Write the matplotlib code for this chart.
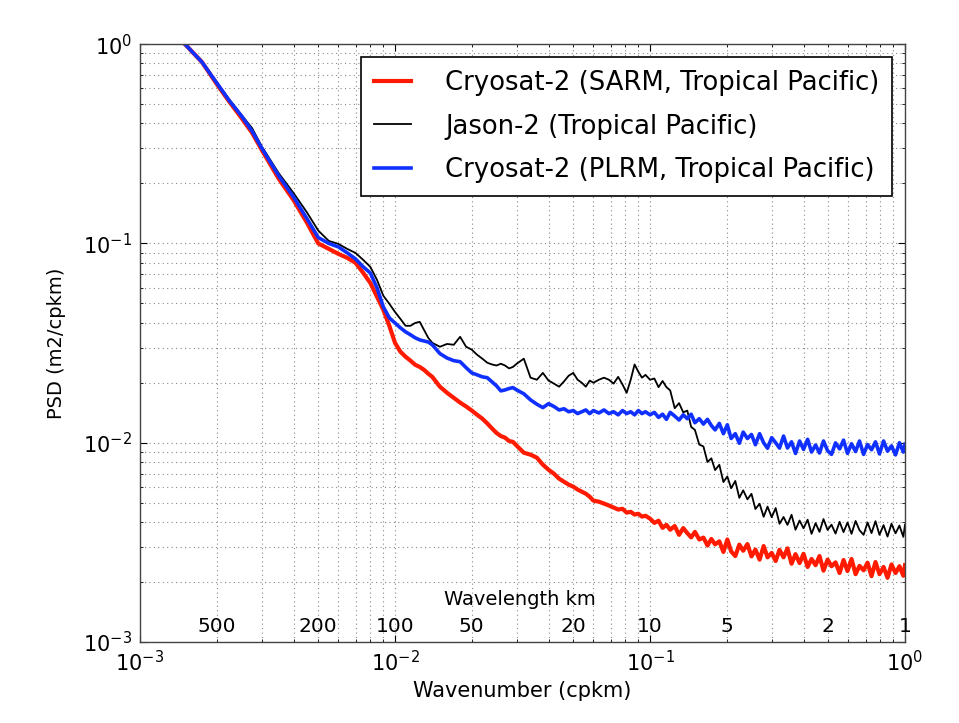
import matplotlib
matplotlib.use("Agg")
import matplotlib.pyplot as plt

# ---------------- data ----------------
wavenumber = [
    0.0015, 0.00175, 0.002, 0.00223, 0.0025, 0.00275, 0.003, 0.0035, 0.004, 0.0045,
    0.005, 0.0055, 0.006, 0.0065, 0.007, 0.0075, 0.008, 0.0085, 0.009, 0.0095, 0.010,
    0.0105, 0.011, 0.0115, 0.012, 0.0125, 0.013, 0.0135, 0.014, 0.015, 0.016,
    0.017, 0.018, 0.019, 0.020, 0.021, 0.022, 0.023, 0.024, 0.025, 0.026,
    0.027, 0.028, 0.029, 0.030, 0.032, 0.034, 0.036, 0.038, 0.040, 0.042,
    0.044, 0.046, 0.048, 0.050, 0.052, 0.054, 0.056, 0.058, 0.060, 0.063,
    0.066, 0.069, 0.072, 0.075, 0.078, 0.081, 0.084, 0.087, 0.090, 0.093,
    0.096, 0.100,
    0.104, 0.108, 0.112, 0.116, 0.120, 0.125, 0.130, 0.135, 0.140, 0.145,
    0.150, 0.156, 0.162, 0.168, 0.174, 0.180, 0.187, 0.194, 0.201, 0.208,
    0.216, 0.224, 0.232, 0.241, 0.250, 0.259, 0.269, 0.279, 0.289, 0.300,
    0.311, 0.322, 0.334, 0.346, 0.359, 0.372, 0.386, 0.400, 0.415, 0.430,
    0.446, 0.462, 0.479, 0.497, 0.515, 0.534, 0.554, 0.574, 0.595, 0.617,
    0.640, 0.663, 0.688, 0.713, 0.739, 0.766, 0.794, 0.824, 0.854, 0.885,
    0.918, 0.951, 0.985, 1.0,
]

psd_sarm = [
    1.0, 0.812, 0.630, 0.518, 0.426, 0.359, 0.295, 0.211, 0.165, 0.128,
    0.100, 0.0939, 0.0886, 0.0846, 0.0799, 0.0712, 0.0634, 0.0540, 0.0464, 0.0386, 0.0317,
    0.0286, 0.0270, 0.0258, 0.0246, 0.0240, 0.0232, 0.0222, 0.0214, 0.0191, 0.0178,
    0.0168, 0.0159, 0.0152, 0.0145, 0.0138, 0.0132, 0.0125, 0.0118, 0.0112, 0.0108,
    0.0106, 0.0102, 0.0101, 0.00966, 0.00891, 0.00871, 0.00841, 0.00776, 0.00732, 0.00699,
    0.00660, 0.00637, 0.00616, 0.00602, 0.00582, 0.00568, 0.00555, 0.00536, 0.00512, 0.00506,
    0.00495, 0.00484, 0.00473, 0.00462, 0.00466, 0.00446, 0.00450, 0.00436, 0.00440, 0.00426,
    0.00430, 0.00416,
    0.00396, 0.00406, 0.00374, 0.00387, 0.00366, 0.00382, 0.00345, 0.00373, 0.00352, 0.00335,
    0.00357, 0.00327, 0.00334, 0.00305, 0.00329, 0.00309, 0.00320, 0.00283, 0.00327, 0.00285,
    0.00270, 0.00308, 0.00287, 0.00310, 0.00269, 0.00291, 0.00259, 0.00303, 0.00266, 0.00280,
    0.00255, 0.00290, 0.00266, 0.00295, 0.00247, 0.00276, 0.00249, 0.00277, 0.00238, 0.00261,
    0.00243, 0.00270, 0.00228, 0.00259, 0.00240, 0.00251, 0.00222, 0.00258, 0.00227, 0.00261,
    0.00219, 0.00241, 0.00229, 0.00250, 0.00214, 0.00252, 0.00219, 0.00238, 0.00210, 0.00245,
    0.00222, 0.00240, 0.00215, 0.00243,
]

psd_jason = [
    1.0, 0.812, 0.645, 0.530, 0.441, 0.379, 0.307, 0.225, 0.179, 0.144,
    0.116, 0.1029, 0.0994, 0.0938, 0.0896, 0.0827, 0.0763, 0.0656, 0.0546, 0.0498, 0.0453,
    0.0418, 0.0386, 0.0386, 0.0399, 0.0404, 0.0368, 0.0336, 0.0317, 0.0303, 0.0313,
    0.0310, 0.0340, 0.0303, 0.0293, 0.0276, 0.0264, 0.0252, 0.0247, 0.0244, 0.0249,
    0.0244, 0.0236, 0.0240, 0.0249, 0.0264, 0.0212, 0.0207, 0.0224, 0.0205, 0.0198,
    0.0191, 0.0203, 0.0217, 0.0224, 0.0207, 0.0200, 0.0191, 0.0205, 0.0200, 0.0207,
    0.0212, 0.0207, 0.0198, 0.0214, 0.0196, 0.0178, 0.0207, 0.0247, 0.0227, 0.0212,
    0.0219, 0.0207,
    0.0210, 0.0190, 0.0204, 0.0190, 0.0183, 0.0149, 0.0158, 0.0142, 0.0145, 0.0120,
    0.0116, 0.00979, 0.00958, 0.00800, 0.00835, 0.00729, 0.00775, 0.00635, 0.00677, 0.00591,
    0.00643, 0.00529, 0.00577, 0.00520, 0.00554, 0.00465, 0.00494, 0.00425, 0.00478, 0.00423,
    0.00470, 0.00392, 0.00424, 0.00387, 0.00435, 0.00366, 0.00407, 0.00372, 0.00411, 0.00349,
    0.00395, 0.00357, 0.00414, 0.00365, 0.00388, 0.00350, 0.00401, 0.00356, 0.00398, 0.00349,
    0.00405, 0.00364, 0.00345, 0.00398, 0.00352, 0.00404, 0.00345, 0.00386, 0.00338, 0.00392,
    0.00351, 0.00384, 0.00337, 0.00388,
]

psd_plrm = [
    1.0, 0.812, 0.638, 0.524, 0.436, 0.366, 0.301, 0.218, 0.171, 0.134,
    0.107, 0.100, 0.0960, 0.0896, 0.0836, 0.0763, 0.0711, 0.0598, 0.0480, 0.0423, 0.0399,
    0.0377, 0.0360, 0.0348, 0.0336, 0.0328, 0.0324, 0.0320, 0.0310, 0.0280, 0.0266,
    0.0258, 0.0255, 0.0238, 0.0224, 0.0219, 0.0214, 0.0212, 0.0202, 0.0193, 0.0182,
    0.0184, 0.0187, 0.0189, 0.0184, 0.0176, 0.0164, 0.0156, 0.0150, 0.0157, 0.0152,
    0.0146, 0.0148, 0.0143, 0.0145, 0.0140, 0.0143, 0.0146, 0.0140, 0.0145, 0.0141,
    0.0146, 0.0140, 0.0143, 0.0138, 0.0145, 0.0140, 0.0143, 0.0138, 0.0145, 0.0140,
    0.0143, 0.0138,
    0.0142, 0.0134, 0.0139, 0.0131, 0.0142, 0.0136, 0.0130, 0.0138, 0.0132, 0.0139,
    0.0126, 0.0132, 0.0124, 0.0131, 0.0122, 0.0116, 0.0125, 0.0111, 0.0123, 0.0105,
    0.0111, 0.00994, 0.0113, 0.0105, 0.0110, 0.00977, 0.0111, 0.00999, 0.00938, 0.0106,
    0.0100, 0.00940, 0.0108, 0.00941, 0.0101, 0.00883, 0.0102, 0.00926, 0.0104, 0.00898,
    0.00974, 0.00888, 0.0102, 0.00912, 0.00874, 0.00998, 0.00931, 0.0103, 0.00884, 0.00988,
    0.00903, 0.0102, 0.00874, 0.00979, 0.00922, 0.0101, 0.00879, 0.0102, 0.00907, 0.00964,
    0.00869, 0.0100, 0.00898, 0.00983,
]

series_labels = [
    "Cryosat-2 (SARM, Tropical Pacific)",
    "Jason-2 (Tropical Pacific)",
    "Cryosat-2 (PLRM, Tropical Pacific)",
]
wavelength_km = [500, 200, 100, 50, 20, 10, 5, 2, 1]

# ---------------- figure ----------------
fig = plt.figure(figsize=(9.59, 7.23), dpi=100)
ax = fig.add_axes([0.146, 0.112, 0.7977, 0.827])

l_sarm, = ax.plot(wavenumber, psd_sarm, color="#ff1a00", lw=3.0, label=series_labels[0])
l_jason, = ax.plot(wavenumber, psd_jason, color="black", lw=1.3, label=series_labels[1])
l_plrm, = ax.plot(wavenumber, psd_plrm, color="#1030ff", lw=2.6, label=series_labels[2])

ax.set_xscale("log")
ax.set_yscale("log")
ax.set_xlim(1e-3, 1.0)
ax.set_ylim(1e-3, 1.0)

ax.grid(True, which="both", linestyle=(0, (1, 3)), color="#8a8a8a", linewidth=0.8)
ax.tick_params(which="both", direction="in", top=True, right=True, labelsize=15)
ax.tick_params(which="major", length=5, pad=6)
ax.tick_params(which="minor", length=2.5)
for s in ax.spines.values():
    s.set_color("#444444")
    s.set_linewidth(1.0)

ax.set_xlabel("Wavenumber (cpkm)", fontsize=15, labelpad=4)
ax.set_ylabel("PSD (m2/cpkm)", fontsize=14, labelpad=12)

# wavelength annotations inside the axes
for wl in wavelength_km:
    ax.text(1.0 / wl, 0.00120, str(wl), ha="center", va="center", fontsize=14.5)
ax.text(0.031, 0.00163, "Wavelength km", ha="center", va="center", fontsize=14)

leg = ax.legend(handles=[l_sarm, l_jason, l_plrm], loc="upper right", fontsize=18.6,
                fancybox=False, framealpha=1.0, edgecolor="black",
                handlelength=1.45, handletextpad=1.3, borderpad=0.5, labelspacing=0.68)
leg.get_frame().set_linewidth(1.2)

fig.savefig("out.png", dpi=100)
